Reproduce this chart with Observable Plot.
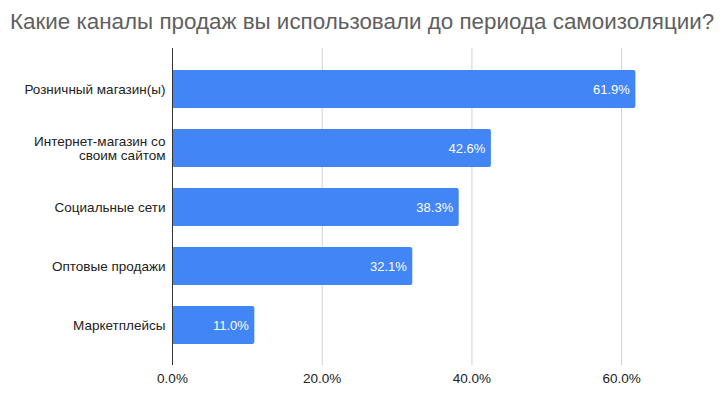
<!DOCTYPE html>
<html>
<head>
<meta charset="utf-8">
<script src="https://cdn.jsdelivr.net/npm/d3@7"></script>
<script src="https://cdn.jsdelivr.net/npm/@observablehq/plot@0.6"></script>
<style>
  html, body { margin: 0; padding: 0; background: #fff; }
  #title { height: 48px; box-sizing: border-box; padding: 9px 0 0 10px; font-family: "Liberation Sans", Arial, sans-serif; font-size: 22.4px; color: #606060; white-space: nowrap; }
  #chart svg { display: block; }
</style>
</head>
<body>
<div id="title">Какие каналы продаж вы использовали до периода самоизоляции?</div>
<div id="chart"></div>
<script>
const categories = ["Розничный магазин(ы)", "Интернет-магазин со своим сайтом", "Социальные сети", "Оптовые продажи", "Маркетплейсы"];
const categoryLabels = ["Розничный магазин(ы)", "Интернет-магазин со\nсвоим сайтом", "Социальные сети", "Оптовые продажи", "Маркетплейсы"];
const values = [0.619, 0.426, 0.383, 0.321, 0.110];
const xTicks = [0, 0.2, 0.4, 0.6];

const data = categories.map((c, i) => ({category: c, value: values[i]}));
const labelOf = new Map(categories.map((c, i) => [c, categoryLabels[i]]));
const fmt = d3.format(".1%");

const chart = Plot.plot({
  width: 727,
  height: 351,
  marginTop: 0,
  marginBottom: 34,
  marginLeft: 172,
  marginRight: 31,
  style: {fontFamily: "'Liberation Sans', Arial, sans-serif", fontSize: "13px", color: "#222"},
  x: {domain: [0, 0.7], ticks: xTicks, tickFormat: fmt, label: null},
  y: {domain: categories, paddingInner: 0.36, paddingOuter: 0.353, label: null},
  marks: [
    Plot.ruleX(xTicks.filter(d => d > 0), {stroke: "#d0d0d0", strokeWidth: 1}),
    Plot.axisX({ticks: xTicks, tickFormat: fmt, tickSize: 0, tickPadding: 8, fontSize: 13.5, fill: "#222", label: null}),
    Plot.axisY({tickSize: 0, tickPadding: 7, fontSize: 13.5, fill: "#222", lineHeight: 1.02, tickFormat: d => labelOf.get(d), label: null}),
    Plot.barX(data, {x: "value", y: "category", fill: "#4285f4", rx: 2}),
    Plot.ruleX([0], {stroke: "#333", strokeWidth: 1}),
    Plot.text(data, {x: "value", y: "category", text: d => fmt(d.value), dx: -6, textAnchor: "end", fill: "white", fontSize: 13})
  ]
});
document.getElementById("chart").appendChild(chart);
</script>
</body>
</html>
